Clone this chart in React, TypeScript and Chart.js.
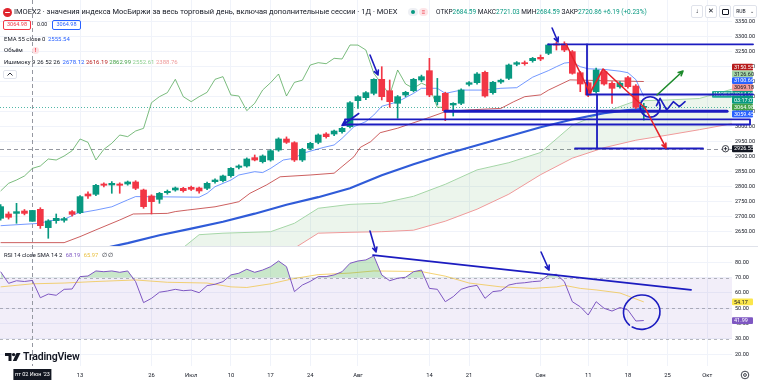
import React, { useEffect, useRef } from 'react';
import { Chart, registerables } from 'chart.js';

// ---------------- data ----------------
const tickIdx = [10, 19, 24, 29, 34, 39, 45, 54, 59, 68, 74, 79, 84, 89];
const tickText = ['13', '26', 'Июл', '10', '17', '24', 'Авг', '14', '21', 'Сен', '11', '18', '25', 'Окт'];

const opens = [2694.6, 2709, 2711, 2719, 2684.59, 2724.6, 2663.5, 2686.8, 2688, 2716.8, 2713.5, 2775.7, 2774.6, 2809, 2805.7, 2809, 2809, 2815.7, 2789, 2769, 2757.9, 2780, 2789, 2794.6, 2798, 2795.7, 2794.6, 2816.8, 2820, 2836.8, 2864.5, 2869, 2896.8, 2883.5, 2889, 2922.3, 2959, 2946.8, 2889, 2927.9, 2947.9, 2975.6, 2975.6, 2983.4, 3000, 3086.8, 3096.8, 3111.2, 3157.9, 3120, 3077.9, 3105.7, 3120, 3155.6, 3186.7, 3083.4, 3111.2, 3072.3, 3077.9, 3141.2, 3146.7, 3181.2, 3113.4, 3149, 3161.2, 3208, 3213.4, 3220, 3231.2, 3244.5, 3276, 3275.6, 3250.1, 3180, 3146.7, 3116.8, 3183.4, 3144.5, 3133, 3163.4, 3135.6, 3064.5];
const highs = [2740, 2716, 2744.6, 2724, 2721.03, 2730, 2690, 2709, 2698, 2720, 2770, 2783, 2808, 2813, 2817, 2813, 2819, 2820, 2792, 2773, 2781, 2789, 2799, 2798, 2802, 2799, 2815, 2826, 2839, 2864, 2873, 2896, 2905.7, 2906, 2924, 2963, 2966, 2950, 2928, 2948, 2976, 2980, 2989, 2998, 3084, 3104, 3117, 3160, 3200, 3155.6, 3104, 3118, 3161, 3172, 3227.9, 3161, 3115, 3080, 3126, 3150, 3180, 3185, 3151, 3159, 3209, 3217, 3219, 3231, 3239, 3276, 3283, 3283, 3254, 3184, 3150, 3195, 3190, 3150, 3150, 3168, 3140, 3078];
const lows = [2688, 2692, 2678, 2706, 2684.59, 2661, 2628, 2678, 2682, 2702, 2710, 2761, 2770, 2799, 2778, 2778, 2805, 2790, 2728, 2709, 2744.6, 2775, 2785, 2782, 2787, 2778, 2790, 2812, 2816, 2832, 2859, 2865, 2886, 2879, 2885, 2918, 2944, 2884, 2884, 2923, 2943, 2962, 2970, 2978, 2996, 3061, 3090, 3106, 3089, 3064.5, 3027.9, 3100, 3116, 3150, 3100, 3072.3, 3020.1, 3035.6, 3073, 3136, 3142, 3098, 3108, 3144, 3157, 3203, 3205, 3215, 3220, 3240, 3255.6, 3250, 3175, 3116.8, 3100, 3112, 3138, 3077.9, 3128, 3128, 3060, 3022];
const closes = [2733.5, 2698, 2716.8, 2711, 2720.86, 2670, 2685.7, 2694.6, 2693.5, 2707.9, 2766.8, 2769, 2804.6, 2804.6, 2811.2, 2804.6, 2815.7, 2794.6, 2733.5, 2750.1, 2777.9, 2784.5, 2795.7, 2786.8, 2791.2, 2785.7, 2811.2, 2822.3, 2835.7, 2861.2, 2869, 2892.3, 2889, 2902.3, 2920, 2959, 2947.9, 2889, 2924.5, 2944.6, 2972.3, 2966.8, 2985.6, 2994.5, 3080, 3100.1, 3113.4, 3157.9, 3100.1, 3083.4, 3100.1, 3114.5, 3157.9, 3166.8, 3105.7, 3102.3, 3053.4, 3077.9, 3122.3, 3146.7, 3175.6, 3102.3, 3147.8, 3155, 3205.6, 3213.4, 3210, 3227.9, 3225.6, 3272.3, 3272, 3255.6, 3177.9, 3142.3, 3105.7, 3189, 3142.3, 3127.9, 3145, 3133.4, 3064.5, 3064.98];

const emaIdx = [0, 4, 8, 12, 16, 20, 24, 28, 32, 36, 40, 44, 48, 52, 56, 60, 64, 68, 72, 76, 79, 81];
const emaVal = [2541, 2555.5, 2572, 2589, 2612, 2638, 2660, 2683, 2710, 2740, 2765, 2795, 2838, 2875, 2908, 2938, 2968, 2998, 3024, 3045, 3055, 3059.45];

const tenkanIdx = [0, 5, 6, 8, 9.6, 12, 14, 16, 17, 25, 26, 27, 29, 30, 32, 33, 34, 35.6, 37, 38, 40.7, 42, 43, 44.5, 46, 47, 48, 50, 52, 53, 55, 56, 58, 61, 63, 65, 67, 69, 70, 71, 72, 73, 74, 76, 78, 79, 80, 81];
const tenkanVal = [2670, 2678, 2686, 2691, 2711, 2722, 2733, 2756, 2767, 2765, 2778, 2800, 2822, 2839, 2850, 2847, 2861, 2889, 2895, 2911, 2931, 2939, 2961, 3000, 3017, 3039, 3068, 3083, 3111, 3128, 3128, 3111, 3122, 3122, 3128, 3130, 3165, 3187, 3200, 3212, 3215, 3200, 3193, 3191, 3185, 3180, 3157, 3100.66];

const kijunIdx = [0, 8, 10, 12, 15, 16.7, 21, 22, 23.5, 27, 29, 30, 31.4, 33.5, 35.2, 39, 42, 43, 44.5, 45.3, 46.6, 47.8, 50, 54, 56, 59, 63, 64.6, 66, 68, 69, 71.7, 81];
const kijunVal = [2613.5, 2613.5, 2633.5, 2656, 2689, 2709, 2711, 2717, 2722, 2733, 2744, 2750, 2778, 2806, 2833, 2839, 2845, 2867, 2900, 2931, 2950, 2980, 2995, 3031, 3050, 3056, 3061, 3083, 3100, 3106, 3122, 3156, 3150.55];

const leadIdx = [0, 10, 18, 23, 25, 28, 34, 37, 40, 44, 48, 52, 56, 60, 64, 68, 72, 76, 80, 84, 88, 92.1];
const leadAVal = [2540, 2560, 2575, 2597, 2640, 2645, 2650, 2678, 2728, 2741, 2745, 2768, 2808, 2856, 2880, 2914, 3005, 3048, 3086, 3089, 3094, 3125];
const leadBVal = [2420, 2440, 2460, 2480, 2490, 2510, 2550, 2595, 2645, 2648, 2650, 2655, 2685, 2725, 2775, 2840, 2895, 2930, 2955, 2972, 2990, 3010];
const chikouShift = 25;

const rsiValues = [73.9, 66.3, 68, 67.5, 68.2, 56.9, 59.3, 58.5, 62.4, 62.6, 70.7, 71.1, 74.4, 73.9, 74.4, 73.5, 74.4, 67.4, 53.7, 56.5, 60.5, 61.3, 62.4, 61.5, 61.9, 60.2, 64.8, 65.7, 67.4, 71.8, 72.9, 75.5, 73.5, 75, 77.2, 80.9, 77.2, 60.9, 65.2, 67.6, 70.7, 70.7, 71.8, 73.9, 79.4, 80.9, 81.6, 84.2, 71.8, 68, 69.6, 70.3, 73.9, 75, 63, 62.4, 54.3, 57.6, 62.4, 64.1, 65, 56.5, 60.9, 61.5, 65.2, 66.3, 66.7, 67.4, 67.8, 71.8, 72.2, 67.4, 54.3, 51, 45.6, 54.3, 50, 48.2, 50.5, 48.9, 41.7, 41.99];
const rsiSmaIdx = [0, 4, 8, 12, 17, 21, 26, 29, 31, 34, 37, 40, 44, 47, 53, 56, 59, 63, 67, 70, 71, 73, 75, 78, 81];
const rsiSmaVal = [64, 66, 66.5, 67.5, 68.5, 67, 66.5, 64, 63.6, 66, 69.5, 72, 73, 74.4, 74, 71, 66.5, 64, 63, 64, 65, 63, 62, 60, 54.17];
const rsiLevels = [70, 50, 30];

const priceTicks = [2650, 2700, 2750, 2800, 2850, 2900, 2950, 3000, 3050, 3100, 3150, 3200, 3250, 3300, 3350];
const rsiTicks = [20, 30, 40, 50, 60, 70, 80];

const crosshairIdx = 4;
const crosshairPrice = 2926.55;
const crosshairDate = "пт 02 Июн '23";
const lastPrice = 3064.98;
const countdown = '03:17:07';

// price-scale tags (top to bottom): base, lead A, conversion, lead B, last price, lagging, EMA
const mainTagVals = [3150.55, 3126.6, 3100.66, 3069.18, 3064.98, 3064.98, 3059.45];
const mainTagAnchor = 5;
const rsiTagVals = [54.17, 41.99];

// user drawings in data units (bar index, price / rsi)
const blueSegs = [
  [68.94, 3274.7, 94.76, 3274.7],
  [73.85, 3274.7, 73.85, 3107.3],
  [73.85, 3107.3, 94.76, 3107.3],
  [75.11, 3107.3, 75.11, 2927.3],
  [72.34, 2927.3, 88.46, 2927.3],
];
const thickSeg = [55.97, 3051.3, 91.49, 3051.3];
const blueRect = [43.37, 3024.7, 94.38, 3007.3];
const blueArrows = [
  [45.1, 3044, 43.0, 3004],
  [46.52, 3239, 47.53, 3172.3],
  [69.45, 3329, 70.2, 3282.3],
];
const redPath = [[71.21, 3275.7], [74.23, 3112.3], [75.87, 3192.3], [81.16, 3062.3], [83.8, 2929]];
const greenArrow = [82.67, 3105.7, 85.94, 3185.7];
const blueCircle = [81.8, 3066, 1.26, 34];
const squiggle = [[82.6, 3070], [83.05, 3094.7], [83.89, 3055.7], [84.72, 3083.3], [85.48, 3066.7], [86.2, 3083.3]];
const rsiTrend = [46.9, 84.8, 86.95, 62.0];
const rsiArrows = [[46.52, 100.5, 47.28, 86.8], [68.06, 86.8, 69.07, 75]];
const rsiCircle = [80.74, 47.45, 2.3, 11.2];

// ---------------- styling ----------------
const UP = '#089981';
const DOWN = '#f23645';
const BLUE_DRAW = '#1c1cc0';
const GRID = '#f0f3fa';
const TXT = '#131722';
const FONT = 'Roboto, "Noto Sans", sans-serif';
const W = 758;
const H = 385;

const paneClip = {
  id: 'paneClip',
  beforeDatasetDraw(chart: any, args: any) {
    const ctx = chart.ctx;
    ctx.save();
    const ys = chart.scales[args.meta.yAxisID];
    if (ys) {
      const a = chart.chartArea;
      ctx.beginPath();
      ctx.rect(a.left, ys.top, a.right - a.left, ys.bottom - ys.top);
      ctx.clip();
    }
  },
  afterDatasetDraw(chart: any) {
    chart.ctx.restore();
  },
};
Chart.register(paneClip as any);
Chart.register(...registerables);

function arrow(ctx: CanvasRenderingContext2D, x1: number, y1: number, x2: number, y2: number, head: number) {
  ctx.beginPath();
  ctx.moveTo(x1, y1);
  ctx.lineTo(x2, y2);
  const ang = Math.atan2(y2 - y1, x2 - x1);
  ctx.moveTo(x2, y2);
  ctx.lineTo(x2 - head * Math.cos(ang - 0.45), y2 - head * Math.sin(ang - 0.45));
  ctx.moveTo(x2, y2);
  ctx.lineTo(x2 - head * Math.cos(ang + 0.45), y2 - head * Math.sin(ang + 0.45));
  ctx.stroke();
}

function tag(ctx: CanvasRenderingContext2D, x: number, yc: number, w: number, h: number, bg: string, fg: string, lines: string[]) {
  ctx.fillStyle = bg;
  ctx.beginPath();
  (ctx as any).roundRect ? (ctx as any).roundRect(x, yc - h / 2, w, h, 1) : ctx.rect(x, yc - h / 2, w, h);
  ctx.fill();
  ctx.fillStyle = fg;
  ctx.textBaseline = 'middle';
  ctx.textAlign = 'left';
  const lh = h / lines.length;
  lines.forEach((t, i) => ctx.fillText(t, x + 2, yc - h / 2 + lh * (i + 0.5) + 0.3));
}

const overlay = {
  id: 'overlay',
  beforeDatasetsDraw(chart: any) {
    const { ctx, chartArea: a, scales } = chart;
    const x = scales.x, y = scales.y, r = scales.rsi;
    ctx.save();
    const y70 = r.getPixelForValue(rsiLevels[0]);
    const y30 = r.getPixelForValue(rsiLevels[2]);
    ctx.fillStyle = 'rgba(126,87,194,0.1)';
    ctx.fillRect(a.left, y70, a.right - a.left, y30 - y70);
    ctx.strokeStyle = 'rgba(120,123,134,0.55)';
    ctx.lineWidth = 1;
    ctx.setLineDash([3, 3]);
    rsiLevels.forEach((lv) => {
      const yy = Math.round(r.getPixelForValue(lv)) + 0.5;
      ctx.beginPath(); ctx.moveTo(a.left, yy); ctx.lineTo(a.right, yy); ctx.stroke();
    });
    ctx.setLineDash([]);
    ctx.strokeStyle = '#e0e3eb';
    ctx.beginPath(); ctx.moveTo(0, Math.round(r.top) + 0.5); ctx.lineTo(W, Math.round(r.top) + 0.5); ctx.stroke();
    ctx.strokeStyle = 'rgba(8,153,129,0.7)';
    ctx.setLineDash([1, 2]);
    const lp = Math.round(y.getPixelForValue(lastPrice)) + 0.5;
    ctx.beginPath(); ctx.moveTo(a.left, lp); ctx.lineTo(a.right, lp); ctx.stroke();
    ctx.strokeStyle = '#9598a1';
    ctx.setLineDash([4, 3]);
    const cx = Math.round(x.getPixelForValue(crosshairIdx)) + 0.5;
    ctx.beginPath(); ctx.moveTo(cx, a.top); ctx.lineTo(cx, a.bottom); ctx.stroke();
    const cy = Math.round(y.getPixelForValue(crosshairPrice)) + 0.5;
    ctx.beginPath(); ctx.moveTo(a.left, cy); ctx.lineTo(a.right, cy); ctx.stroke();
    ctx.restore();
  },
  afterDraw(chart: any) {
    const { ctx, chartArea: a, scales } = chart;
    const x = scales.x, y = scales.y, r = scales.rsi;
    ctx.save();
    ctx.font = '5.5px ' + FONT;
    const tx = a.right;
    const tw = 21;
    const th = 6.8;
    const styles = [
      { bg: '#b71c1c', fg: '#fff' },
      { bg: '#a5d6a7', fg: TXT },
      { bg: '#2962ff', fg: '#fff' },
      { bg: '#ef9a9a', fg: TXT },
      { bg: UP, fg: '#fff', two: true },
      { bg: '#43a047', fg: '#fff' },
      { bg: '#2962ff', fg: '#fff' },
    ];
    const hs = styles.map((s: any) => (s.two ? th * 1.9 : th));
    const pos: number[] = mainTagVals.map((v) => y.getPixelForValue(v));
    for (let k = mainTagAnchor - 1; k >= 0; k--) pos[k] = Math.min(pos[k], pos[k + 1] - hs[k + 1] / 2 - hs[k] / 2);
    for (let k = mainTagAnchor + 1; k < pos.length; k++) pos[k] = Math.max(pos[k], pos[k - 1] + hs[k - 1] / 2 + hs[k] / 2);
    mainTagVals.forEach((v, k) => {
      const s: any = styles[k];
      const lines = s.two ? [v.toFixed(2), countdown] : [v.toFixed(2)];
      tag(ctx, tx, pos[k], tw, hs[k], s.bg, s.fg, lines);
      if (s.two) tag(ctx, tx - 20, pos[k] - hs[k] / 2 + th / 2, 20, th, '#22ab94', '#fff', ['IMOEX2']);
    });
    const cpy = y.getPixelForValue(crosshairPrice);
    tag(ctx, tx, cpy, tw, th, TXT, '#fff', [crosshairPrice.toFixed(2)]);
    ctx.fillStyle = '#fff';
    ctx.strokeStyle = TXT;
    ctx.lineWidth = 0.8;
    ctx.beginPath(); ctx.arc(tx - 6.5, cpy, 3.2, 0, Math.PI * 2); ctx.fill(); ctx.stroke();
    ctx.beginPath(); ctx.moveTo(tx - 8.3, cpy); ctx.lineTo(tx - 4.7, cpy); ctx.moveTo(tx - 6.5, cpy - 1.8); ctx.lineTo(tx - 6.5, cpy + 1.8); ctx.stroke();
    tag(ctx, tx, r.getPixelForValue(rsiTagVals[0]), tw, th, '#fbe64b', TXT, [rsiTagVals[0].toFixed(2)]);
    tag(ctx, tx, r.getPixelForValue(rsiTagVals[1]), tw, th, '#7e57c2', '#fff', [rsiTagVals[1].toFixed(2)]);
    const cxp = x.getPixelForValue(crosshairIdx);
    ctx.fillStyle = TXT;
    ctx.fillRect(cxp - 19, a.bottom + 3, 38, 11);
    ctx.fillStyle = '#fff';
    ctx.textAlign = 'center';
    ctx.textBaseline = 'middle';
    ctx.fillText(crosshairDate, cxp, a.bottom + 8.7);

    const px = (v: number) => x.getPixelForValue(v);
    const py = (v: number) => y.getPixelForValue(v);
    const pr = (v: number) => r.getPixelForValue(v);
    ctx.lineCap = 'round';
    ctx.lineJoin = 'round';
    ctx.strokeStyle = BLUE_DRAW;
    ctx.lineWidth = 1.8;
    blueSegs.forEach((s) => {
      ctx.beginPath(); ctx.moveTo(px(s[0]), py(s[1])); ctx.lineTo(px(s[2]), py(s[3])); ctx.stroke();
    });
    ctx.beginPath();
    ctx.rect(px(blueRect[0]), py(blueRect[1]), px(blueRect[2]) - px(blueRect[0]), py(blueRect[3]) - py(blueRect[1]));
    ctx.stroke();
    ctx.lineWidth = 3;
    ctx.beginPath(); ctx.moveTo(px(thickSeg[0]), py(thickSeg[1])); ctx.lineTo(px(thickSeg[2]), py(thickSeg[3])); ctx.stroke();
    ctx.lineWidth = 1.6;
    blueArrows.forEach((s) => arrow(ctx, px(s[0]), py(s[1]), px(s[2]), py(s[3]), 5));
    ctx.beginPath();
    ctx.ellipse(px(blueCircle[0]), py(blueCircle[1]), px(blueCircle[0] + blueCircle[2]) - px(blueCircle[0]), py(blueCircle[1] - blueCircle[3]) - py(blueCircle[1]), 0, 0, Math.PI * 2);
    ctx.stroke();
    ctx.beginPath();
    squiggle.forEach((p, i) => (i ? ctx.lineTo(px(p[0]), py(p[1])) : ctx.moveTo(px(p[0]), py(p[1]))));
    ctx.stroke();
    ctx.strokeStyle = '#e5222b';
    ctx.lineWidth = 1.6;
    ctx.beginPath();
    for (let i = 0; i < redPath.length - 1; i++) {
      const p = redPath[i];
      i ? ctx.lineTo(px(p[0]), py(p[1])) : ctx.moveTo(px(p[0]), py(p[1]));
    }
    ctx.stroke();
    const rp1 = redPath[redPath.length - 2], rp2 = redPath[redPath.length - 1];
    arrow(ctx, px(rp1[0]), py(rp1[1]), px(rp2[0]), py(rp2[1]), 5);
    ctx.strokeStyle = '#1e8b2c';
    arrow(ctx, px(greenArrow[0]), py(greenArrow[1]), px(greenArrow[2]), py(greenArrow[3]), 5);
    ctx.strokeStyle = BLUE_DRAW;
    ctx.lineWidth = 1.8;
    ctx.beginPath(); ctx.moveTo(px(rsiTrend[0]), pr(rsiTrend[1])); ctx.lineTo(px(rsiTrend[2]), pr(rsiTrend[3])); ctx.stroke();
    ctx.lineWidth = 1.6;
    rsiArrows.forEach((s) => arrow(ctx, px(s[0]), pr(s[1]), px(s[2]), pr(s[3]), 5));
    ctx.beginPath();
    ctx.ellipse(px(rsiCircle[0]), pr(rsiCircle[1]), px(rsiCircle[0] + rsiCircle[2]) - px(rsiCircle[0]), pr(rsiCircle[1] - rsiCircle[3]) - pr(rsiCircle[1]), -0.15, Math.PI * 0.78, Math.PI * 2.72);
    ctx.stroke();
    ctx.restore();
  },
};

function pts(idx: number[], vals: number[]) {
  return idx.map((v, i) => ({ x: v, y: vals[i] }));
}

const fitY = (s: any) => { s.width = 26; s.paddingTop = 0; s.paddingBottom = 0; };

export default function App() {
  const ref = useRef<HTMLCanvasElement>(null);
  useEffect(() => {
    Chart.defaults.font.family = FONT;
    const bodyColors = closes.map((c, i) => (c >= opens[i] ? UP : DOWN));
    const lineBase = { type: 'line', pointRadius: 0, borderWidth: 1, tension: 0, fill: false, yAxisID: 'y' };
    const chart = new Chart(ref.current as HTMLCanvasElement, {
      type: 'line',
      data: {
        datasets: [
          { ...lineBase, label: 'leadA', data: pts(leadIdx, leadAVal), borderColor: '#a5d6a7', order: 20,
            fill: { target: 1, above: 'rgba(67,160,71,0.1)', below: 'rgba(244,67,54,0.1)' } },
          { ...lineBase, label: 'leadB', data: pts(leadIdx, leadBVal), borderColor: '#ef9a9a', order: 19 },
          { ...lineBase, label: 'chikou', data: closes.slice(chikouShift).map((c, k) => ({ x: k, y: c })), borderColor: 'rgba(67,160,71,0.7)', order: 18 },
          { ...lineBase, label: 'kijun', data: pts(kijunIdx, kijunVal), borderColor: 'rgba(183,28,28,0.7)', order: 17 },
          { ...lineBase, label: 'tenkan', data: pts(tenkanIdx, tenkanVal), borderColor: 'rgba(41,98,255,0.65)', order: 16 },
          { ...lineBase, label: 'ema', data: pts(emaIdx, emaVal), borderColor: '#2f5bd8', borderWidth: 2.2, order: 15 },
          { type: 'bar', label: 'wicks', yAxisID: 'y', data: opens.map((o, i) => ({ x: i, y: [lows[i], highs[i]] })),
            backgroundColor: bodyColors, barThickness: 1, grouped: false, borderWidth: 0, order: 2 },
          { type: 'bar', label: 'bodies', yAxisID: 'y', data: opens.map((o, i) => ({ x: i, y: [o, closes[i]] })),
            backgroundColor: bodyColors, barThickness: 6, grouped: false, borderWidth: 0, minBarLength: 1, order: 1 },
          { ...lineBase, label: 'rsiSma', yAxisID: 'rsi', data: pts(rsiSmaIdx, rsiSmaVal), borderColor: 'rgba(240,196,70,0.75)', order: 4 },
          { ...lineBase, label: 'rsi', yAxisID: 'rsi', data: rsiValues.map((v, i) => ({ x: i, y: v })), borderColor: '#7e57c2', order: 3,
            fill: { target: { value: 70 }, above: 'rgba(76,175,80,0.3)', below: 'rgba(0,0,0,0)' } },
        ] as any,
      },
      options: {
        animation: false,
        responsive: false,
        events: [],
        layout: { padding: 0 },
        plugins: { legend: { display: false }, tooltip: { enabled: false } },
        scales: {
          x: {
            type: 'linear', min: -0.08, max: 92.11, offset: false, position: 'bottom',
            grid: { color: GRID, drawTicks: false, offset: false },
            border: { display: false },
            afterBuildTicks: (s: any) => { s.ticks = tickIdx.map((v) => ({ value: v })); },
            afterFit: (s: any) => { s.height = 19; s.paddingLeft = 0; s.paddingRight = 0; },
            ticks: { autoSkip: false, maxRotation: 0, padding: 6, color: TXT, font: { size: 5.8 },
              callback: (v: any, i: number) => tickText[i] },
          },
          y: {
            type: 'linear', position: 'right', stack: 'panes', stackWeight: 246, min: 2602.3, max: 3422.3,
            grid: { color: GRID, drawTicks: false },
            border: { display: false },
            afterBuildTicks: (s: any) => { s.ticks = priceTicks.map((v) => ({ value: v })); },
            afterFit: fitY,
            ticks: { autoSkip: false, padding: 3, color: TXT, font: { size: 5.5 }, callback: (v: any) => Number(v).toFixed(2) },
          },
          rsi: {
            type: 'linear', position: 'right', stack: 'panes', stackWeight: 120, min: 12.3, max: 90.7,
            grid: { color: GRID, drawTicks: false },
            border: { display: false },
            afterBuildTicks: (s: any) => { s.ticks = rsiTicks.map((v) => ({ value: v })); },
            afterFit: fitY,
            ticks: { autoSkip: false, padding: 3, color: TXT, font: { size: 5.5 }, callback: (v: any) => Number(v).toFixed(2) },
          },
        },
      } as any,
      plugins: [overlay as any],
    });
    return () => chart.destroy();
  }, []);

  const abs = (l: number, t: number, extra: any = {}) => ({ position: 'absolute' as const, left: l, top: t, whiteSpace: 'nowrap' as const, lineHeight: 1, ...extra });
  const btn = (l: number, w: number) => abs(l, 5, { width: w, height: 13, boxSizing: 'border-box', border: '1px solid #e0e3eb', borderRadius: 2, background: '#fff', display: 'flex', alignItems: 'center', justifyContent: 'center', fontSize: 6.5, color: TXT });

  return (
    <div style={{ position: 'fixed', left: 0, top: 0, width: W, height: H, background: '#fff', overflow: 'hidden', fontFamily: FONT, color: TXT }}>
      <canvas ref={ref} width={W} height={H} style={{ position: 'absolute', left: 0, top: 0, width: W, height: H }} />
      <div style={abs(3, 7.5, { width: 9, height: 9, borderRadius: 5, background: '#e0252e' })}>
        <div style={{ position: 'absolute', left: 2, top: 4, width: 5, height: 1.3, background: '#fff', borderRadius: 1 }} />
      </div>
      <div style={abs(14, 8, { fontSize: 7.5 })}>IMOEX2 · значения индекса МосБиржи за весь торговый день, включая дополнительные сессии · 1Д · MOEX</div>
      <div style={abs(408, 8, { width: 10, height: 8, borderRadius: 4, background: '#eef0f4' })}>
        <div style={{ position: 'absolute', left: 3, top: 2, width: 4, height: 4, borderRadius: 2, background: UP }} />
      </div>
      <div style={abs(419, 8, { width: 9, height: 8, borderRadius: 4, background: '#fde4e7', color: DOWN, fontSize: 6, textAlign: 'center', lineHeight: '8px' })}>≡</div>
      <div style={abs(436, 8.6, { fontSize: 6.5 })}>
        ОТКР<span style={{ color: UP }}>2684.59</span> МАКС<span style={{ color: UP }}>2721.03</span> МИН<span style={{ color: UP }}>2684.59</span> ЗАКР<span style={{ color: UP }}>2720.86</span> <span style={{ color: UP }}>+6.19 (+0.23%)</span>
      </div>
      <div style={btn(691, 12)}>↓</div>
      <div style={btn(705, 12)}>✕</div>
      <div style={btn(719, 12)}>
        <div style={{ width: 5, height: 4, border: '1px solid #131722', borderRadius: 1 }} />
      </div>
      <div style={btn(733, 24)}>
        <span style={{ fontSize: 5 }}>RUB</span><span style={{ fontSize: 5, marginLeft: 4 }}>⌄</span>
      </div>
      <div style={abs(3, 19.5, { width: 28, height: 10, boxSizing: 'border-box', border: '1px solid #f23645', borderRadius: 2, color: DOWN, fontSize: 5.5, display: 'flex', alignItems: 'center', justifyContent: 'center' })}>3064.98</div>
      <div style={abs(37, 22.2, { fontSize: 5.2 })}>0.00</div>
      <div style={abs(52, 19.5, { width: 29, height: 10, boxSizing: 'border-box', border: '1px solid #2962ff', borderRadius: 2, color: '#2962ff', fontSize: 5.5, display: 'flex', alignItems: 'center', justifyContent: 'center' })}>3064.98</div>
      <div style={abs(4, 36, { fontSize: 6 })}>EMA 55 close 0 <span style={{ color: '#2962ff', marginLeft: 1 }}>2555.54</span></div>
      <div style={abs(4, 47, { fontSize: 6 })}>Объём</div>
      <div style={abs(32, 46.5, { width: 7, height: 7, borderRadius: 4, background: '#fcdfe2', color: DOWN, fontSize: 5.5, textAlign: 'center', lineHeight: '7px', fontWeight: 700 })}>!</div>
      <div style={abs(4, 59, { fontSize: 6 })}>
        Ишимоку 9 26 52 26 <span style={{ color: '#2962ff', marginLeft: 1 }}>2678.12</span> <span style={{ color: '#b71c1c' }}>2616.19</span> <span style={{ color: '#43a047' }}>2862.99</span> <span style={{ color: '#8fcf92' }}>2552.61</span> <span style={{ color: '#ef9a9a' }}>2388.76</span>
      </div>
      <div style={abs(3, 69.5, { width: 14, height: 9, boxSizing: 'border-box', border: '1px solid #e0e3eb', borderRadius: 2, background: '#fff', display: 'flex', alignItems: 'center', justifyContent: 'center' })}>
        <svg width="6" height="4" viewBox="0 0 6 4"><path d="M0.5 3.5 L3 1 L5.5 3.5" stroke="#131722" strokeWidth="0.9" fill="none" /></svg>
      </div>
      <div style={abs(4, 252.5, { fontSize: 5.8 })}>
        RSI 14 close SMA 14 2 <span style={{ color: '#7e57c2', marginLeft: 2 }}>68.19</span> <span style={{ color: '#e9bf3c', marginLeft: 2 }}>65.97</span> <span style={{ marginLeft: 2 }}>∅</span> <span>∅</span>
      </div>
      <div style={abs(5, 352, { display: 'flex', alignItems: 'center' })}>
        <svg width="16" height="10" viewBox="0 0 16 10">
          <path d="M0 1 H6.5 V9 H3.5 V4 H0 Z" fill="#131722" />
          <circle cx="8.6" cy="2.6" r="1.7" fill="#131722" />
          <path d="M11.5 1 H15.5 L11.5 9 H7.8 Z" fill="#131722" />
        </svg>
        <span style={{ fontSize: 10.5, fontWeight: 600, marginLeft: 2, letterSpacing: -0.2 }}>TradingView</span>
      </div>
      <svg style={{ position: 'absolute', left: 740, top: 370 }} width="10" height="10" viewBox="0 0 10 10">
        <circle cx="5" cy="5" r="3.8" stroke="#131722" strokeWidth="0.8" fill="none" />
        <circle cx="5" cy="5" r="1.4" stroke="#131722" strokeWidth="0.8" fill="none" />
      </svg>
    </div>
  );
}
